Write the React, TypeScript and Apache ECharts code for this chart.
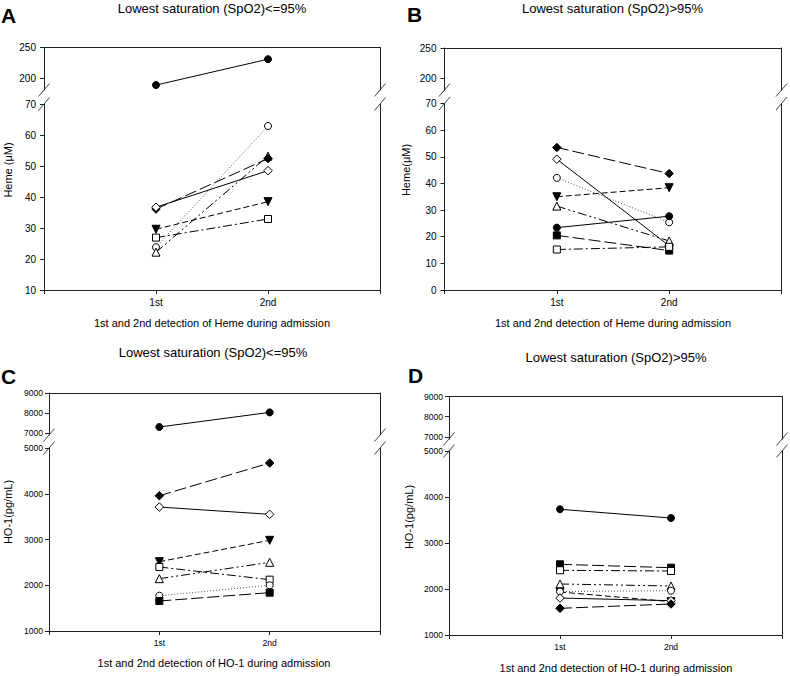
import React, { useEffect, useRef } from 'react';
import * as echarts from 'echarts';

// ---------- categories / labels ----------
const detections = ['1st', '2nd'];
const detectionX = [1, 2];

const titleLow = 'Lowest saturation (SpO2)<=95%';
const titleHigh = 'Lowest saturation (SpO2)>95%';
const xNameHeme = '1st and 2nd detection of Heme during admission';
const xNameHO = '1st and 2nd detection of HO-1 during admission';

// tick labels
const hemeUpperTicks = [200, 250];
const hoUpperTicks = [7000, 8000, 9000];

// ---------- Panel A: Heme, SpO2 <= 95% ----------
const aFilledCircle = [189, 231];
const aOpenCircle = [23.8, 62.9];
const aFilledTriDown = [29.6, 38.5];
const aOpenTriUp = [22.2, 53.2];
const aOpenSquare = [26.9, 32.9];
const aFilledDiamond = [36.1, 52.4];
const aOpenDiamond = [36.7, 48.5];

// ---------- Panel B: Heme, SpO2 > 95% ----------
const bFilledDiamond = [53.5, 43.7];
const bOpenDiamond = [49.1, 16.6];
const bOpenCircle = [42.1, 25.4];
const bFilledTriDown = [35.0, 38.4];
const bOpenTriUp = [31.5, 18.4];
const bFilledCircle = [23.4, 27.7];
const bFilledSquare = [20.5, 14.8];
const bOpenSquare = [15.2, 16.2];

// ---------- Panel C: HO-1, SpO2 <= 95% ----------
const cFilledCircle = [7300, 8030];
const cFilledDiamond = [3957, 4672];
const cOpenDiamond = [3710, 3550];
const cFilledTriDown = [2515, 2982];
const cOpenTriUp = [2144, 2501];
const cOpenSquare = [2399, 2122];
const cOpenCircle = [1772, 1999];
const cFilledSquare = [1656, 1838];

// ---------- Panel D: HO-1, SpO2 > 95% ----------
const dFilledCircle = [3733, 3543];
const dFilledSquare = [2537, 2463];
const dOpenSquare = [2407, 2391];
const dOpenTriUp = [2109, 2065];
const dFilledTriDown = [1935, 1724];
const dOpenCircle = [1945, 1963];
const dOpenDiamond = [1804, 1746];
const dFilledDiamond = [1580, 1674];

const FONT = '"Liberation Sans", Arial, Helvetica, sans-serif';

type MarkerStyle = {
  symbol: string;
  size: number;
  rotate?: number;
  filled: boolean;
  dash: any;
  color?: string;
};

const styles: Record<string, MarkerStyle> = {
  filledCircle: { symbol: 'circle', size: 7, filled: true, dash: 'solid' },
  openCircle: { symbol: 'circle', size: 7, filled: false, dash: [1, 2], color: '#555' },
  filledTriDown: { symbol: 'triangle', size: 8, rotate: 180, filled: true, dash: [6, 3] },
  openTriUp: { symbol: 'triangle', size: 8, filled: false, dash: [9, 3, 2, 3, 2, 3] },
  filledSquare: { symbol: 'rect', size: 7, filled: true, dash: [12, 4] },
  openSquare: { symbol: 'rect', size: 7, filled: false, dash: [9, 3, 2, 3] },
  filledDiamond: { symbol: 'diamond', size: 8.5, filled: true, dash: [12, 4] },
  openDiamond: { symbol: 'diamond', size: 8.5, filled: false, dash: 'solid' },
};

type Layout = {
  left: number;
  right: number;
  upperTop: number;
  upperBottom: number;
  lowerTop: number;
  lowerBottom: number;
  upperRange: [number, number];
  lowerRange: [number, number];
  upperTicks: number[];
  lowerInterval: number;
  fontSize: number;
  labelMargin: number;
};

type Panel = {
  letter: string;
  letterPos: [number, number];
  title: string;
  titlePos: [number, number];
  xName: string;
  xNamePos: [number, number];
  yName: string;
  yNamePos: [number, number];
  layout: Layout;
  series: [string, number[]][];
};

const panels: Panel[] = [
  {
    letter: 'A',
    letterPos: [1, 15],
    title: titleLow,
    titlePos: [212, 8],
    xName: xNameHeme,
    xNamePos: [212, 323],
    yName: 'Heme (μM)',
    yNamePos: [7.5, 170],
    layout: {
      left: 44, right: 380, upperTop: 47.5, upperBottom: 90, lowerTop: 104, lowerBottom: 290,
      upperRange: [181, 250], lowerRange: [10, 70], upperTicks: hemeUpperTicks, lowerInterval: 10,
      fontSize: 10, labelMargin: 8,
    },
    series: [
      ['filledCircle', aFilledCircle],
      ['openCircle', aOpenCircle],
      ['filledTriDown', aFilledTriDown],
      ['openTriUp', aOpenTriUp],
      ['openSquare', aOpenSquare],
      ['filledDiamond', aFilledDiamond],
      ['openDiamond', aOpenDiamond],
    ],
  },
  {
    letter: 'B',
    letterPos: [407, 14],
    title: titleHigh,
    titlePos: [612.5, 8],
    xName: xNameHeme,
    xNamePos: [613, 323],
    yName: 'Heme(μM)',
    yNamePos: [405.5, 170],
    layout: {
      left: 444.5, right: 781.5, upperTop: 48, upperBottom: 90, lowerTop: 103.5, lowerBottom: 290,
      upperRange: [181, 250], lowerRange: [0, 70], upperTicks: hemeUpperTicks, lowerInterval: 10,
      fontSize: 10, labelMargin: 8,
    },
    series: [
      ['filledDiamond', bFilledDiamond],
      ['openDiamond', bOpenDiamond],
      ['openCircle', bOpenCircle],
      ['filledTriDown', bFilledTriDown],
      ['openTriUp', bOpenTriUp],
      ['filledCircle', bFilledCircle],
      ['filledSquare', bFilledSquare],
      ['openSquare', bOpenSquare],
    ],
  },
  {
    letter: 'C',
    letterPos: [1, 376],
    title: titleLow,
    titlePos: [213, 352],
    xName: xNameHO,
    xNamePos: [214, 663],
    yName: 'HO-1(pg/mL)',
    yNamePos: [7.5, 512],
    layout: {
      left: 49, right: 380, upperTop: 393, upperBottom: 435, lowerTop: 448, lowerBottom: 631,
      upperRange: [6900, 9000], lowerRange: [1000, 5000], upperTicks: hoUpperTicks, lowerInterval: 1000,
      fontSize: 8.5, labelMargin: 6,
    },
    series: [
      ['filledCircle', cFilledCircle],
      ['filledDiamond', cFilledDiamond],
      ['openDiamond', cOpenDiamond],
      ['filledTriDown', cFilledTriDown],
      ['openTriUp', cOpenTriUp],
      ['openSquare', cOpenSquare],
      ['openCircle', cOpenCircle],
      ['filledSquare', cFilledSquare],
    ],
  },
  {
    letter: 'D',
    letterPos: [408, 375],
    title: titleHigh,
    titlePos: [616, 357],
    xName: xNameHO,
    xNamePos: [616, 668],
    yName: 'HO-1(pg/mL)',
    yNamePos: [409, 517],
    layout: {
      left: 449, right: 782, upperTop: 396.5, upperBottom: 439, lowerTop: 451, lowerBottom: 635,
      upperRange: [6900, 9000], lowerRange: [1000, 5000], upperTicks: hoUpperTicks, lowerInterval: 1000,
      fontSize: 8.5, labelMargin: 6,
    },
    series: [
      ['filledCircle', dFilledCircle],
      ['filledSquare', dFilledSquare],
      ['openSquare', dOpenSquare],
      ['openTriUp', dOpenTriUp],
      ['filledTriDown', dFilledTriDown],
      ['openCircle', dOpenCircle],
      ['openDiamond', dOpenDiamond],
      ['filledDiamond', dFilledDiamond],
    ],
  },
];

const AXIS_COLOR = '#222';
const plainNumber = (v: number) => String(v);

function buildOption() {
  const grid: any[] = [];
  const xAxis: any[] = [];
  const yAxis: any[] = [];
  const series: any[] = [];
  const graphic: any[] = [];

  panels.forEach((p, i) => {
    const L = p.layout;
    const width = L.right - L.left;
    const upperGrid = 2 * i;
    const lowerGrid = 2 * i + 1;
    grid.push({
      left: L.left, top: L.upperTop, width, height: L.upperBottom - L.upperTop,
      outerBoundsMode: 'none', containLabel: false,
    });
    grid.push({
      left: L.left, top: L.lowerTop, width, height: L.lowerBottom - L.lowerTop,
      outerBoundsMode: 'none', containLabel: false,
    });

    const lineStyle = { color: AXIS_COLOR, width: 1 };
    xAxis.push({
      gridIndex: upperGrid, type: 'value', min: 0, max: 3, position: 'top',
      axisLine: { show: true, onZero: false, lineStyle },
      axisTick: { show: false }, axisLabel: { show: false }, splitLine: { show: false },
    });
    xAxis.push({
      gridIndex: lowerGrid, type: 'value', min: 0, max: 3, interval: 1, position: 'bottom',
      axisLine: { show: true, onZero: false, lineStyle },
      axisTick: { show: true, length: 4, inside: false, lineStyle },
      axisLabel: {
        show: true, fontSize: L.fontSize, fontFamily: FONT, color: '#000', margin: 7,
        formatter: (v: number) => {
          const k = detectionX.indexOf(v);
          return k >= 0 ? detections[k] : '';
        },
      },
      splitLine: { show: false },
    });

    yAxis.push({
      gridIndex: upperGrid, type: 'value', min: L.upperRange[0], max: L.upperRange[1], position: 'left',
      axisLine: { show: true, onZero: false, lineStyle },
      axisTick: { show: true, length: 4, customValues: L.upperTicks, lineStyle },
      axisLabel: {
        show: true, customValues: L.upperTicks, fontSize: L.fontSize, fontFamily: FONT,
        color: '#000', margin: L.labelMargin, formatter: plainNumber,
      },
      splitLine: { show: false },
    });
    yAxis.push({
      gridIndex: upperGrid, type: 'value', min: L.upperRange[0], max: L.upperRange[1], position: 'right',
      axisLine: { show: true, onZero: false, lineStyle },
      axisTick: { show: false }, axisLabel: { show: false }, splitLine: { show: false },
    });
    yAxis.push({
      gridIndex: lowerGrid, type: 'value', min: L.lowerRange[0], max: L.lowerRange[1],
      interval: L.lowerInterval, position: 'left',
      axisLine: { show: true, onZero: false, lineStyle },
      axisTick: { show: true, length: 4, lineStyle },
      axisLabel: {
        show: true, fontSize: L.fontSize, fontFamily: FONT, color: '#000', margin: L.labelMargin,
        showMinLabel: true, showMaxLabel: true, formatter: plainNumber,
      },
      splitLine: { show: false },
    });
    yAxis.push({
      gridIndex: lowerGrid, type: 'value', min: L.lowerRange[0], max: L.lowerRange[1], position: 'right',
      axisLine: { show: true, onZero: false, lineStyle },
      axisTick: { show: false }, axisLabel: { show: false }, splitLine: { show: false },
    });

    p.series.forEach(([key, values], sIdx) => {
      const st = styles[key];
      const inUpper = Math.min(...values) > L.lowerRange[1];
      const color = st.color || '#000';
      series.push({
        type: 'line',
        name: `${p.letter}-${key}`,
        xAxisIndex: inUpper ? upperGrid : lowerGrid,
        yAxisIndex: inUpper ? 4 * i : 4 * i + 2,
        data: detectionX.map((x, k) => [x, values[k]]),
        symbol: st.symbol,
        symbolSize: st.size,
        symbolRotate: st.rotate || 0,
        showSymbol: true,
        showAllSymbol: true,
        clip: false,
        silent: true,
        z: 10 + sIdx,
        lineStyle: { color, width: 1, type: st.dash },
        itemStyle: st.filled
          ? { color: '#000', borderColor: '#000', borderWidth: 1 }
          : { color: '#fff', borderColor: '#000', borderWidth: 1 },
        emphasis: { disabled: true },
      });
    });

    graphic.push({
      type: 'text', x: p.letterPos[0], y: p.letterPos[1], silent: true,
      style: { text: p.letter, fontSize: 21, fontWeight: 'bold', fontFamily: FONT, fill: '#000', align: 'left', verticalAlign: 'middle' },
    });
    graphic.push({
      type: 'text', x: p.titlePos[0], y: p.titlePos[1], silent: true,
      style: { text: p.title, fontSize: 13, fontFamily: FONT, fill: '#000', align: 'center', verticalAlign: 'middle' },
    });
    graphic.push({
      type: 'text', x: p.xNamePos[0], y: p.xNamePos[1], silent: true,
      style: { text: p.xName, fontSize: 11, fontFamily: FONT, fill: '#000', align: 'center', verticalAlign: 'middle' },
    });
    graphic.push({
      type: 'text', x: p.yNamePos[0], y: p.yNamePos[1], rotation: Math.PI / 2, silent: true,
      style: { text: p.yName, fontSize: 11, fontFamily: FONT, fill: '#000', align: 'center', verticalAlign: 'middle' },
    });

    [L.left, L.right].forEach((ax) => {
      [L.upperBottom, L.lowerTop].forEach((ay) => {
        graphic.push({
          type: 'line', silent: true,
          shape: { x1: ax - 5.5, y1: ay + 6.5, x2: ax + 5.5, y2: ay - 6.5 },
          style: { stroke: '#444', lineWidth: 1 },
        });
      });
    });
  });

  return {
    animation: false,
    backgroundColor: '#fff',
    grid,
    xAxis,
    yAxis,
    series,
    graphic,
  };
}

export default function App() {
  const ref = useRef<HTMLDivElement>(null);
  useEffect(() => {
    document.body.style.margin = '0';
    if (!ref.current) return;
    const chart = echarts.init(ref.current, null, { renderer: 'svg' });
    chart.setOption(buildOption() as any);
    return () => {
      chart.dispose();
    };
  }, []);
  return <div ref={ref} style={{ width: 790, height: 676, background: '#fff' }} />;
}
